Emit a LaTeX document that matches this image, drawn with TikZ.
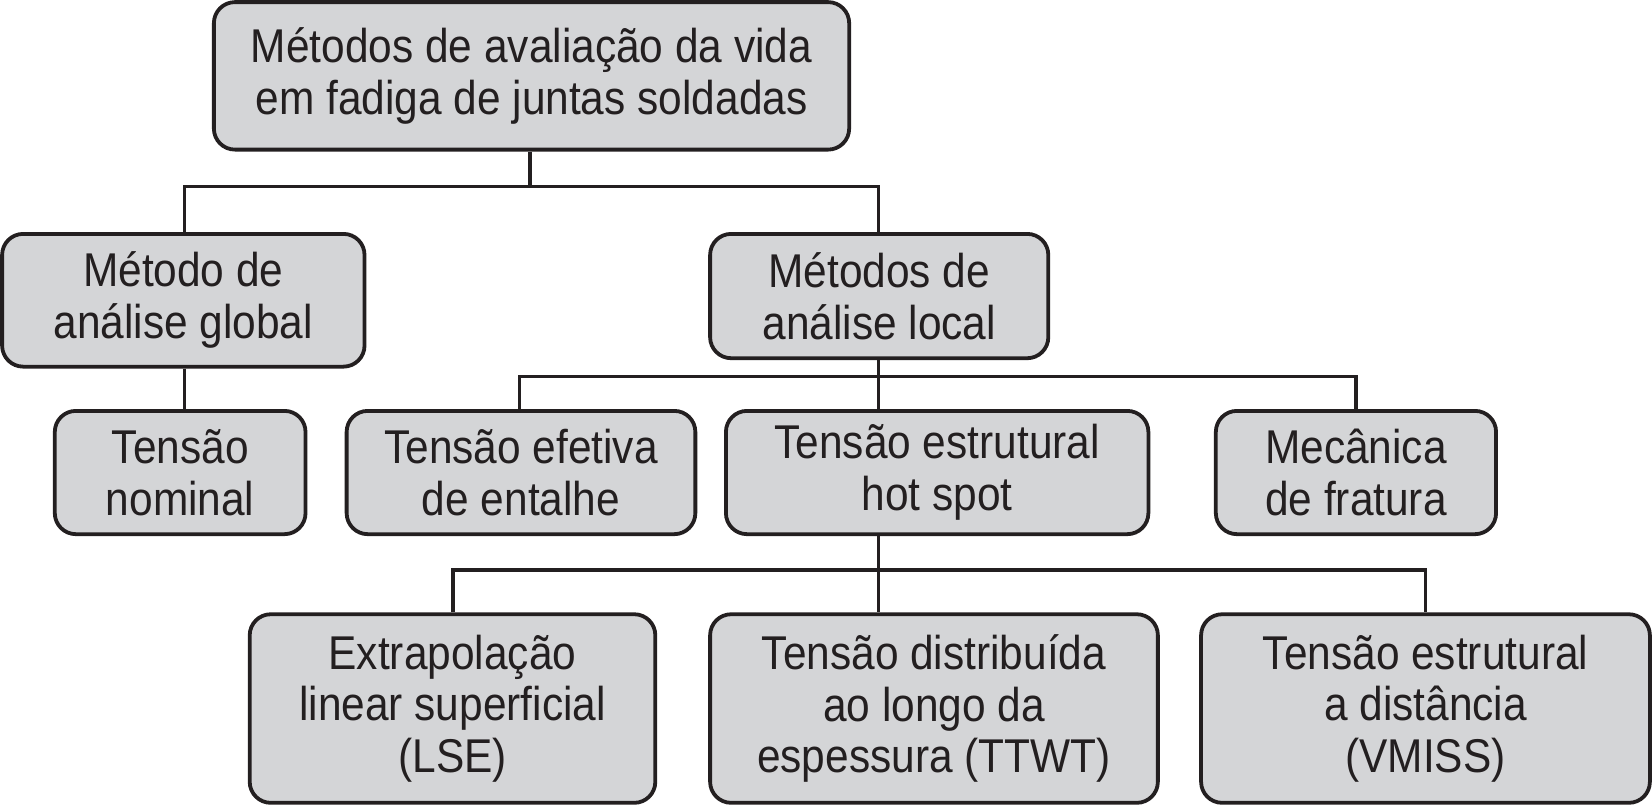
\documentclass[tikz,border=0pt]{standalone}
\usepackage{fontspec}
\setmainfont{Liberation Sans}[FakeStretch=0.895]
\definecolor{boxfill}{RGB}{212,213,215}
\definecolor{ink}{RGB}{35,31,32}
\begin{document}
\begin{tikzpicture}[x=1pt,y=-1pt,
  box/.style={draw=ink,fill=boxfill,line width=3.6pt,rounded corners=20pt,
    align=center,inner sep=0pt,font=\fontsize{45}{49}\selectfont,text=ink},
  conn/.style={draw=ink,line width=3pt}]
\useasboundingbox (0,0) rectangle (1568,766);
\node[box,minimum width=603,minimum height=140] (top) at (504.5,72) {Métodos de avaliação da vida\\em fadiga de juntas soldadas};
\node[box,minimum width=344,minimum height=126] (global) at (174,285) {Método de\\análise global};
\node[box,minimum width=321,minimum height=118] (local) at (834.5,281) {Métodos de\\análise local};
\node[box,minimum width=238,minimum height=117] (nominal) at (171,448.5) {Tensão\\nominal};
\node[box,minimum width=331,minimum height=117] (efetiva) at (494.5,448.5) {Tensão efetiva\\de entalhe};
\node[box,minimum width=401,minimum height=117] (hotspot) at (889.5,448.5) {Tensão estrutural\\hot spot};
\node[box,minimum width=266,minimum height=117] (mecanica) at (1287,448.5) {Mecânica\\de fratura};
\node[box,minimum width=385,minimum height=179] (lse) at (429.5,672.5) {Extrapolação\\linear superficial\\(LSE)};
\node[box,minimum width=425,minimum height=179] (ttwt) at (886.5,672.5) {Tensão distribuída\\ao longo da\\espessura (TTWT)};
\node[box,minimum width=426,minimum height=179] (vmiss) at (1353,672.5) {Tensão estrutural\\a distância\\(VMISS)};
% junctions
\coordinate (j1) at (503,177);
\coordinate (g1) at (175,177);
\coordinate (l1) at (834,177);
\coordinate (j2) at (834,357);
\coordinate (e2) at (493,357);
\coordinate (m2) at (1287,357);
\coordinate (j3) at (834,541);
\coordinate (a3) at (430,541);
\coordinate (b3) at (1353,541);
\draw[conn] (top.south -| j1) -- (j1);
\draw[conn] (g1 |- global.north) -- (g1) -- (l1) -- (l1 |- local.north);
\draw[conn] (g1 |- global.south) -- (g1 |- nominal.north);
\draw[conn] (j2 |- local.south) -- (j2);
\draw[conn] (e2 |- efetiva.north) -- (e2) -- (m2) -- (m2 |- mecanica.north);
\draw[conn] (j2) -- (j2 |- hotspot.north);
\draw[conn] (j3 |- hotspot.south) -- (j3);
\draw[conn] (a3 |- lse.north) -- (a3) -- (b3) -- (b3 |- vmiss.north);
\draw[conn] (j3) -- (j3 |- ttwt.north);
\end{tikzpicture}
\end{document}
